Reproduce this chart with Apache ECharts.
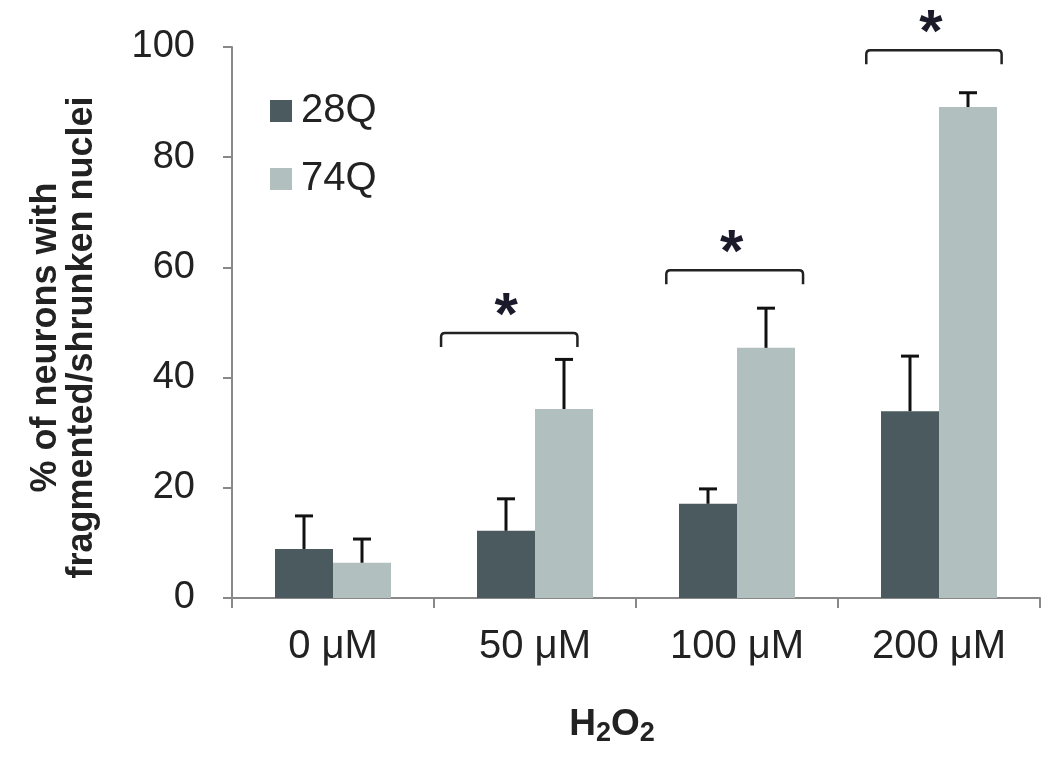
<!DOCTYPE html>
<html>
<head>
<meta charset="utf-8">
<script src="https://cdn.jsdelivr.net/npm/echarts@6/dist/echarts.min.js"></script>
<style>
  html, body { margin: 0; padding: 0; background: #fff; }
  #chart { width: 1050px; height: 769px; }
</style>
</head>
<body>
<div id="chart"></div>
<script>
  // categories & values
  var doses = ['0 μM', '50 μM', '100 μM', '200 μM'];
  var q28 = [8.9, 12.2, 17.1, 33.9];
  var q28Err = [6.0, 5.8, 2.7, 10.0];
  var q74 = [6.4, 34.3, 45.4, 89.1];
  var q74Err = [4.3, 9.0, 7.2, 2.6];
  // significance brackets: category index, height, span (in category widths)
  var sigCat = [1, 2, 3];
  var sigY = [48.1, 59.5, 99.4];
  var sigFrom = [-0.465, -0.35, -0.36];
  var sigTo = [0.21, 0.327, 0.31];

  var dark = '#4b5a5e';
  var light = '#b1bfbf';
  var BAR_W = 58;

  var errData = [];
  for (var i = 0; i < doses.length; i++) {
    errData.push([i, q28[i], q28Err[i], -1]);
    errData.push([i, q74[i], q74Err[i], 1]);
  }
  var sigData = [];
  for (var j = 0; j < sigCat.length; j++) {
    sigData.push([sigCat[j], sigY[j], sigFrom[j], sigTo[j]]);
  }

  var myChart = echarts.init(document.getElementById('chart'));
  myChart.setOption({
    animation: false,
    textStyle: {fontFamily: 'Liberation Sans, Arial, sans-serif'},
    grid: {left: 232, right: 10, top: 47, bottom: 171},
    legend: {
      orient: 'vertical',
      left: 265, top: 86,
      itemWidth: 22, itemHeight: 22, itemGap: 28,
      icon: 'rect',
      textStyle: {fontSize: 40, color: '#222', padding: [0, 0, 0, 4]},
      data: ['28Q', '74Q']
    },
    xAxis: {
      type: 'category',
      data: doses,
      axisLine: {lineStyle: {color: '#888', width: 2}},
      axisTick: {show: true, length: 10, lineStyle: {color: '#888', width: 2}},
      axisLabel: {fontSize: 40, color: '#222', margin: 29},
      name: '{b|H}{s|2}{b|O}{s|2}',
      nameLocation: 'middle',
      nameGap: 104,
      nameTextStyle: {
        padding: [0, 48, 0, 0],
        rich: {
          b: {fontSize: 37, fontWeight: 'bold', color: '#222'},
          s: {fontSize: 27, fontWeight: 'bold', color: '#222', verticalAlign: 'bottom', padding: [18, 0, 0, 0]}
        }
      }
    },
    yAxis: {
      type: 'value',
      min: 0, max: 100, interval: 20,
      axisLine: {show: true, lineStyle: {color: '#888', width: 2}},
      axisTick: {show: true, length: 9, lineStyle: {color: '#888', width: 2}},
      splitLine: {show: false},
      axisLabel: {fontSize: 38, color: '#222', margin: 37},
      name: '% of neurons with\nfragmented/shrunken nuclei',
      nameLocation: 'middle',
      nameGap: 132,
      nameTextStyle: {fontSize: 36, fontWeight: 'bold', color: '#222', lineHeight: 36, padding: [0, 30, 0, 0]}
    },
    series: [
      {name: '28Q', type: 'bar', data: q28, barWidth: BAR_W, barGap: '0%', itemStyle: {color: dark}},
      {name: '74Q', type: 'bar', data: q74, barWidth: BAR_W, barGap: '0%', itemStyle: {color: light}},
      {
        type: 'custom',
        data: errData,
        z: 5,
        renderItem: function (params, api) {
          var c = api.coord([api.value(0), api.value(1)]);
          var t = api.coord([api.value(0), api.value(1) + api.value(2)]);
          var x = c[0] + api.value(3) * BAR_W / 2;
          var st = {stroke: '#111', lineWidth: 3};
          return {
            type: 'group',
            children: [
              {type: 'line', shape: {x1: x, y1: c[1], x2: x, y2: t[1]}, style: st},
              {type: 'line', shape: {x1: x - 9, y1: t[1], x2: x + 9, y2: t[1]}, style: st}
            ]
          };
        }
      },
      {
        type: 'custom',
        data: sigData,
        z: 5,
        renderItem: function (params, api) {
          var c = api.coord([api.value(0), api.value(1)]);
          var bw = api.size([1, 0])[0];
          var x1 = c[0] + api.value(2) * bw;
          var x2 = c[0] + api.value(3) * bw;
          var y = c[1];
          var d = 14, r = 4;
          var path = 'M' + x1 + ' ' + (y + d) + ' L' + x1 + ' ' + (y + r) +
            ' Q' + x1 + ' ' + y + ' ' + (x1 + r) + ' ' + y +
            ' L' + (x2 - r) + ' ' + y +
            ' Q' + x2 + ' ' + y + ' ' + x2 + ' ' + (y + r) +
            ' L' + x2 + ' ' + (y + d);
          return {
            type: 'group',
            children: [
              {type: 'path', shape: {pathData: path}, style: {stroke: '#222', lineWidth: 2.5, fill: null}},
              {type: 'text', style: {text: '*', x: (x1 + x2) / 2 - 3, y: y - 16, fontSize: 60, fontWeight: 'bold',
                fill: '#1a1a2a', align: 'center', verticalAlign: 'middle', fontFamily: 'Liberation Sans'}}
            ]
          };
        }
      }
    ]
  });
</script>
</body>
</html>
